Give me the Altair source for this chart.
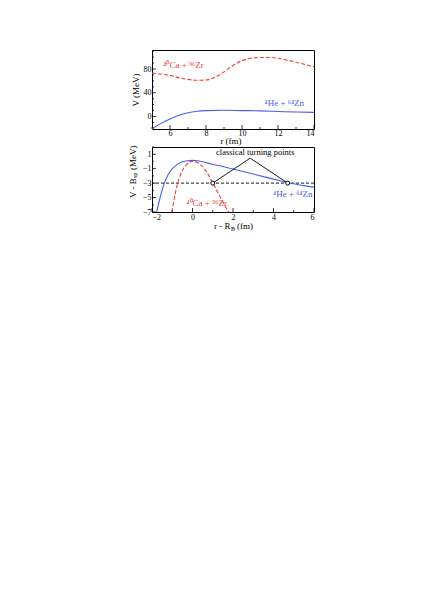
import altair as alt
import pandas as pd

FONT = "Liberation Serif"
RED = "#f23a3a"
BLUE = "#4b5cf0"

# ---------------- top panel data ----------------
top_r_ca = [5, 5.5, 6, 6.5, 7, 7.5, 8, 8.5, 9, 9.5, 10, 10.5, 11, 11.5, 12, 12.5, 13, 13.5, 14]
top_v_ca = [73, 71.5, 69, 65.5, 62.5, 61, 61.5, 66, 75, 86, 94, 98, 99.5, 99.5, 98, 95, 91.5, 87.5, 84]
top_r_he = [5, 5.25, 5.5, 6, 6.5, 7, 7.5, 8, 9, 10, 11, 12, 13, 14]
top_v_he = [-21, -16, -11.5, -4, 2, 6.5, 9, 10, 10.5, 10, 9.5, 8.5, 7.5, 7]
top_x_ticks = [6, 8, 10, 12, 14]
top_y_ticks = [0, 40, 80]
top_y_minor = [-20, -10, 10, 20, 30, 50, 60, 70, 90, 100, 110]
top_x_minor = [5, 7, 9, 11, 13]

# ---------------- bottom panel data ----------------
bot_x_he = [-1.77, -1.6, -1.39, -1.2, -1.0, -0.75, -0.5, -0.25, 0, 0.25, 0.5, 1, 1.5, 2, 2.5, 3, 3.5, 4, 4.5, 4.7, 5, 5.5, 6]
bot_v_he = [-7, -5.0, -3, -1.8, -1.0, -0.4, -0.05, 0.1, 0.15, 0.1, -0.05, -0.4, -0.7, -1.05, -1.4, -1.75, -2.1, -2.45, -2.8, -2.95, -3.1, -3.35, -3.55]
bot_x_ca = [-1.03, -0.93, -0.84, -0.73, -0.6, -0.45, -0.3, -0.15, 0.05, 0.25, 0.5, 0.75, 1.0, 1.25, 1.5, 1.75, 1.8]
bot_v_ca = [-7, -5.6, -4.3, -3, -1.9, -1.0, -0.45, -0.1, 0.05, -0.15, -0.7, -1.7, -3.0, -4.3, -5.6, -6.8, -7]
energy_level = -3
turning_x = [1.0, 4.7]
apex = (2.85, 0.45)
bot_x_ticks = [-2, 0, 2, 4, 6]
bot_y_ticks = [1, -1, -3, -5, -7]
bot_x_minor = [-1, 1, 3, 5]
bot_y_minor = [2, 0, -2, -4, -6]

label_ca = "\u2074\u2070Ca + \u2079\u2076Zr"
label_he = "\u2074He + \u2076\u2074Zn"


def txt(s, x, y, size=9, angle=0, align="left"):
    return alt.Chart(pd.DataFrame({"t": [s]})).mark_text(
        font=FONT, fontSize=size, color="black", align=align, baseline="middle", angle=angle).encode(
        x=alt.value(x), y=alt.value(y), text="t:N")


# ---------------- top panel ----------------
TW, TH = 162, 79
tx = alt.X("x:Q", scale=alt.Scale(domain=[5, 14], nice=False, zero=False),
           axis=alt.Axis(values=top_x_ticks, title="", labelPadding=0))
ty = alt.Y("y:Q", scale=alt.Scale(domain=[-21, 112], nice=False, zero=False),
           axis=alt.Axis(values=top_y_ticks, title="V (MeV)", titlePadding=3))

df_top_ca = pd.DataFrame({"x": top_r_ca, "y": top_v_ca})
df_top_he = pd.DataFrame({"x": top_r_he, "y": top_v_he})

top_ca = alt.Chart(df_top_ca).mark_line(color=RED, strokeDash=[4, 2], strokeWidth=1.1,
                                        interpolate="monotone", clip=True).encode(x=tx, y=ty)
top_he = alt.Chart(df_top_he).mark_line(color=BLUE, strokeWidth=1.1,
                                        interpolate="monotone", clip=True).encode(x=tx, y=ty)
top_lab = alt.Chart(pd.DataFrame({"x": [6.75, 12.35], "y": [86, 22], "t": [label_ca, label_he],
                                  "c": ["ca", "he"]})).mark_text(
    fontSize=9, font=FONT).encode(
    x=tx, y=ty, text="t:N",
    color=alt.Color("c:N", scale=alt.Scale(domain=["ca", "he"], range=[RED, BLUE]), legend=None))

top_ytick = alt.Chart(pd.DataFrame({"y": top_y_ticks})).mark_rule(color="black", strokeWidth=0.8).encode(
    y=ty, x=alt.value(0), x2=alt.value(4))
top_ytick_m = alt.Chart(pd.DataFrame({"y": top_y_minor})).mark_rule(color="black", strokeWidth=0.8).encode(
    y=ty, x=alt.value(0), x2=alt.value(2))
top_xtick = alt.Chart(pd.DataFrame({"x": top_x_ticks})).mark_rule(color="black", strokeWidth=0.8).encode(
    x=tx, y=alt.value(TH), y2=alt.value(TH - 4))
top_xtick_m = alt.Chart(pd.DataFrame({"x": top_x_minor})).mark_rule(color="black", strokeWidth=0.8).encode(
    x=tx, y=alt.value(TH), y2=alt.value(TH - 2))
top_xtitle = txt("r (fm)", TW / 2 - 2, TH + 12, size=9, align="center")

top = alt.layer(top_ytick, top_ytick_m, top_xtick, top_xtick_m, top_ca, top_he, top_lab,
                top_xtitle).properties(width=TW, height=TH)

# ---------------- bottom panel ----------------
BW, BH = 162, 65
bx = alt.X("x:Q", scale=alt.Scale(domain=[-2, 6], nice=False, zero=False),
           axis=alt.Axis(values=bot_x_ticks, title="", labelPadding=1))
by = alt.Y("y:Q", scale=alt.Scale(domain=[-7, 2], nice=False, zero=False),
           axis=alt.Axis(values=bot_y_ticks, title=""))

df_bot_ca = pd.DataFrame({"x": bot_x_ca, "y": bot_v_ca})
df_bot_he = pd.DataFrame({"x": bot_x_he, "y": bot_v_he})

bot_ca = alt.Chart(df_bot_ca).mark_line(color=RED, strokeDash=[4, 2], strokeWidth=1.1,
                                        interpolate="monotone", clip=True).encode(x=bx, y=by)
bot_he = alt.Chart(df_bot_he).mark_line(color=BLUE, strokeWidth=1.1,
                                        interpolate="monotone", clip=True).encode(x=bx, y=by)
level = alt.Chart(pd.DataFrame({"y": [energy_level]})).mark_rule(
    color="black", strokeDash=[3, 2], strokeWidth=0.9).encode(y=by)
ann = alt.Chart(pd.DataFrame({"x": [turning_x[0], apex[0], turning_x[1]],
                              "y": [energy_level, apex[1], energy_level],
                              "o": [0, 1, 2]})).mark_line(color="black", strokeWidth=0.9).encode(
    x=bx, y=by, order="o:Q")
pts = alt.Chart(pd.DataFrame({"x": turning_x, "y": [energy_level] * 2})).mark_point(
    shape="circle", filled=True, fill="white", stroke="black", strokeWidth=1, size=16, opacity=1).encode(x=bx, y=by)
ann_txt = alt.Chart(pd.DataFrame({"x": [3.1], "y": [1.25], "t": ["classical turning points"]})).mark_text(
    fontSize=8.5, font=FONT, color="black").encode(x=bx, y=by, text="t:N")
bot_lab = alt.Chart(pd.DataFrame({"x": [0.7, 4.95], "y": [-5.7, -4.5], "t": [label_ca, label_he],
                                  "c": ["ca", "he"]})).mark_text(
    fontSize=9, font=FONT).encode(
    x=bx, y=by, text="t:N",
    color=alt.Color("c:N", scale=alt.Scale(domain=["ca", "he"], range=[RED, BLUE]), legend=None))

bot_ytick = alt.Chart(pd.DataFrame({"y": bot_y_ticks})).mark_rule(color="black", strokeWidth=0.8).encode(
    y=by, x=alt.value(0), x2=alt.value(4))
bot_ytick_m = alt.Chart(pd.DataFrame({"y": bot_y_minor})).mark_rule(color="black", strokeWidth=0.8).encode(
    y=by, x=alt.value(0), x2=alt.value(2))
bot_xtick = alt.Chart(pd.DataFrame({"x": bot_x_ticks})).mark_rule(color="black", strokeWidth=0.8).encode(
    x=bx, y=alt.value(BH), y2=alt.value(BH - 4))
bot_xtick_m = alt.Chart(pd.DataFrame({"x": bot_x_minor})).mark_rule(color="black", strokeWidth=0.8).encode(
    x=bx, y=alt.value(BH), y2=alt.value(BH - 2))

xt0 = 62
xty = BH + 14
xtitle = [txt("r - R", xt0, xty), txt("B", xt0 + 17, xty + 2.5, size=6), txt("(fm)", xt0 + 23, xty)]
yt0 = 51
ytitle = [txt("V - B", -19.5, yt0, angle=270), txt("sp", -17, yt0 - 20, size=6, angle=270),
          txt("(MeV)", -19.5, yt0 - 28, angle=270)]

bottom = alt.layer(bot_ytick, bot_ytick_m, bot_xtick, bot_xtick_m, level, bot_ca, bot_he, ann, pts,
                   ann_txt, bot_lab, *xtitle, *ytitle).properties(width=BW, height=BH)

chart = alt.vconcat(top, bottom, spacing=-5).properties(
    padding={"left": 120, "top": 41, "right": 5, "bottom": 5}
).configure_view(stroke="black", strokeWidth=1).configure_axis(
    domain=False, grid=False, ticks=False, labelFont=FONT, titleFont=FONT, labelFontSize=8,
    titleFontSize=9, titleFontWeight="normal", labelColor="black", titleColor="black", labelPadding=1
).configure_text(font=FONT)

chart.save("out.html", embed_options={"renderer": "svg", "actions": False})
